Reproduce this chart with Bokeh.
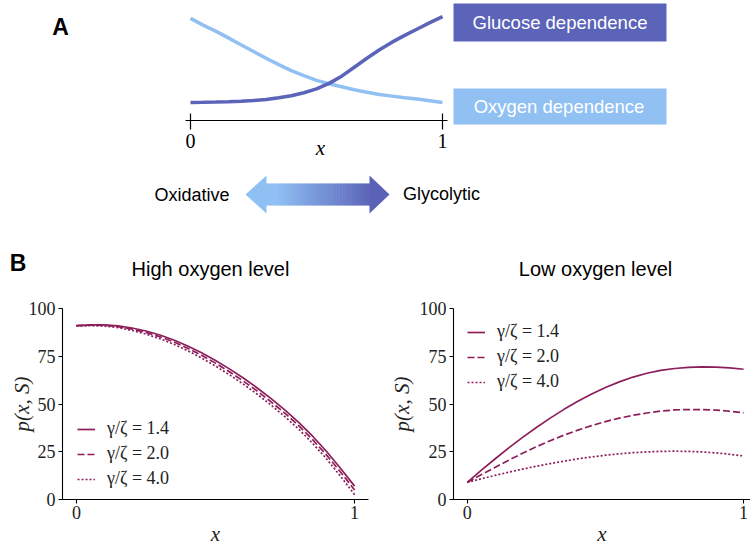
import numpy as np
from bokeh.plotting import figure
from bokeh.layouts import column, row
from bokeh.models import Range1d, FixedTicker, Legend, LegendItem
from bokeh.core.properties import value
from bokeh.embed import file_html
from bokeh.resources import INLINE

# ---------------- data ----------------
# Panel A: schematic dependence curves, x in [0, 1]
a_x = [0.0, 0.05, 0.1, 0.15, 0.2, 0.25, 0.3, 0.35, 0.4, 0.45, 0.5,
       0.55, 0.6, 0.65, 0.7, 0.75, 0.8, 0.85, 0.9, 0.95, 1.0]
glucose_dep = [0.0, 0.002, 0.005, 0.009, 0.015, 0.024, 0.035, 0.055, 0.08, 0.115, 0.16,
               0.225, 0.31, 0.415, 0.52, 0.62, 0.71, 0.79, 0.865, 0.94, 1.01]
oxygen_dep = [0.99, 0.91, 0.84, 0.76, 0.68, 0.60, 0.52, 0.445, 0.375, 0.315, 0.26,
              0.22, 0.185, 0.15, 0.12, 0.095, 0.075, 0.055, 0.04, 0.02, 0.0]
a_ticks = [0, 1]
a_tick_labels = ["0", "1"]
a_box_labels = ["Glucose dependence", "Oxygen dependence"]
arrow_labels = ["Oxidative", "Glycolytic"]

# Panel B: p(x, S) for three gamma/zeta ratios
b_x = [0.0, 0.05, 0.1, 0.15, 0.2, 0.25, 0.3, 0.35, 0.4, 0.45, 0.5,
       0.55, 0.6, 0.65, 0.7, 0.75, 0.8, 0.85, 0.9, 0.95, 1.0]
high_14 = [91.0, 91.4, 91.4, 90.9, 89.8, 88.2, 86.1, 83.5, 80.4, 76.8, 72.8,
           68.4, 63.6, 58.4, 52.8, 46.8, 40.3, 33.0, 25.0, 16.2, 7.0]
high_20 = [91.0, 91.3, 91.2, 90.5, 89.2, 87.5, 85.2, 82.5, 79.2, 75.5, 71.4,
           66.9, 62.0, 56.8, 51.1, 45.1, 38.5, 31.2, 23.1, 14.3, 5.0]
high_40 = [90.8, 91.0, 90.8, 90.0, 88.5, 86.6, 84.2, 81.3, 77.9, 74.1, 69.9,
           65.3, 60.4, 55.1, 49.4, 43.3, 36.7, 29.3, 21.1, 12.1, 2.5]
low_14 = [9.0, 15.2, 21.2, 27.0, 32.5, 37.7, 42.6, 47.2, 51.4, 55.2, 58.6,
          61.6, 64.1, 66.1, 67.6, 68.6, 69.2, 69.4, 69.3, 68.9, 68.2]
low_20 = [9.0, 12.9, 16.8, 20.6, 24.2, 27.6, 30.8, 33.7, 36.3, 38.7, 40.8,
          42.6, 44.1, 45.3, 46.3, 46.9, 47.1, 47.1, 46.8, 46.2, 45.4]
low_40 = [9.0, 10.8, 12.6, 14.3, 15.9, 17.4, 18.8, 20.1, 21.3, 22.3, 23.2,
          23.9, 24.5, 24.9, 25.2, 25.3, 25.2, 24.9, 24.4, 23.7, 22.8]
ratio_labels = ["γ/ζ = 1.4", "γ/ζ = 2.0", "γ/ζ = 4.0"]
panel_titles = ["High oxygen level", "Low oxygen level"]
b_x_ticks = [0, 1]
b_y_ticks = [0, 25, 50, 75, 100]

# ---------------- styles ----------------
GLU = "#5c64b9"
OXY = "#91c0f3"
WINE = "#8c1e5a"
SANS = value("Liberation Sans")
SERIF = value("Liberation Serif")
dashes = ["solid", "7 3", "2 2"]

A_H = 283
B_H = 266

# ---------------- panel A (canvas covering page y 0..283) ----------------
def fx(X):
    return (X - 190.0) / 252.0

def fy(Y):
    return (102.0 - Y) / 85.0

pA = figure(width=750, height=A_H, output_backend="svg", toolbar_location=None,
            x_range=Range1d(fx(0), fx(750)), y_range=Range1d(fy(A_H), fy(0)),
            x_axis_location=None, y_axis_location=None, min_border=0,
            outline_line_color=None)
pA.grid.visible = False

pA.line(a_x, oxygen_dep, line_color=OXY, line_width=3.5)
pA.line(a_x, glucose_dep, line_color=GLU, line_width=3.5)

# axis of schematic
pA.segment(x0=[fx(185)], y0=[fy(120)], x1=[fx(447)], y1=[fy(120)], line_color="black", line_width=1.2)
pA.segment(x0=a_ticks, y0=[fy(113)] * 2, x1=a_ticks, y1=[fy(129)] * 2, line_color="black", line_width=1.2)
pA.text(x=a_ticks, y=[fy(140)] * 2, text=a_tick_labels, text_font=SERIF, text_font_size="20px",
        text_align="center", text_baseline="middle", text_color="black")
pA.text(x=[fx(320)], y=[fy(147)], text=["x"], text_font=SERIF, text_font_size="21px",
        text_font_style="italic", text_align="center", text_baseline="middle", text_color="black")

# label boxes
pA.quad(left=[fx(453), fx(453)], right=[fx(666), fx(666)], top=[fy(3), fy(88)],
        bottom=[fy(41), fy(124)], fill_color=[GLU, OXY], line_color=None)
pA.text(x=[fx(559.5), fx(558.5)], y=[fy(22), fy(106)], text=a_box_labels, text_font=SANS,
        text_font_size="18.5px", text_align="center", text_baseline="middle", text_color="white")

# double arrow with gradient shaft
pA.patches(xs=[[fx(245), fx(266), fx(266)], [fx(389), fx(369), fx(369)]],
           ys=[[fy(194), fy(175), fy(213)], [fy(194), fy(175), fy(213)]],
           fill_color=["#8fc0f3", "#5a62b8"], line_color=None)
edges = np.linspace(264.5, 370.5, 71)
mids = 0.5 * (edges[:-1] + edges[1:])
t = np.clip((mids - 275.0) / (370.0 - 275.0), 0, 1)
c0 = np.array([0x8f, 0xc0, 0xf3])
c1 = np.array([0x5c, 0x64, 0xb9])
cols = ["#%02x%02x%02x" % tuple(int(round(v)) for v in (c0 + (c1 - c0) * tt)) for tt in t]
pA.quad(left=[fx(e) for e in edges[:-1]], right=[fx(e + 0.6) for e in edges[1:]],
        top=[fy(183)] * 70, bottom=[fy(205)] * 70, fill_color=cols, line_color=None)
pA.text(x=[fx(191.5), fx(441)], y=[fy(194), fy(193)], text=arrow_labels, text_font=SANS,
        text_font_size="18px", text_align="center", text_baseline="middle", text_color="black")

# panel letters and panel-B titles
pA.text(x=[fx(60), fx(17.5)], y=[fy(26), fy(262)], text=["A", "B"], text_font=SANS,
        text_font_size="23px", text_font_style="bold", text_align="center",
        text_baseline="middle", text_color="black")
pA.text(x=[fx(210), fx(595)], y=[fy(268), fy(268)], text=panel_titles, text_font=SANS,
        text_font_size="20px", text_align="center", text_baseline="middle", text_color="black")


# ---------------- panel B ----------------
def make_b(width, x_end, left, right, ys, leg_loc, ylab_standoff):
    p = figure(width=width, height=B_H, output_backend="svg", toolbar_location=None,
               x_range=Range1d(-0.05, x_end), y_range=Range1d(0, 100),
               min_border_left=left, min_border_right=right, min_border_top=308 - A_H,
               min_border_bottom=B_H - (308 - A_H) - 191, outline_line_color=None)
    p.grid.visible = False
    p.xaxis.ticker = FixedTicker(ticks=b_x_ticks)
    p.yaxis.ticker = FixedTicker(ticks=b_y_ticks)
    p.xaxis.axis_label = "x"
    p.yaxis.axis_label = "p(x, S)"
    for ax in (p.xaxis[0], p.yaxis[0]):
        ax.axis_line_color = "black"
        ax.axis_line_width = 1.1
        ax.major_tick_line_color = "black"
        ax.major_tick_line_width = 1.1
        ax.major_tick_in = 0
        ax.major_tick_out = 4
        ax.minor_tick_line_color = None
        ax.major_label_text_font = "Liberation Serif"
        ax.major_label_text_font_size = "18px"
        ax.major_label_text_color = "#222222"
        ax.major_label_standoff = 3
        ax.axis_label_text_font = "Liberation Serif"
        ax.axis_label_text_font_size = "21px"
        ax.axis_label_text_font_style = "italic"
        ax.axis_label_text_color = "#222222"
    p.xaxis.major_label_standoff = 2
    p.xaxis.axis_label_standoff = 0
    p.yaxis.axis_label_standoff = ylab_standoff
    rs = []
    for yv, dash in zip(ys, dashes):
        rs.append(p.line(b_x, yv, line_color=WINE, line_width=1.7, line_dash=dash))
    leg = Legend(items=[LegendItem(label=lab, renderers=[r]) for lab, r in zip(ratio_labels, rs)],
                 location=leg_loc, glyph_width=18, glyph_height=20, label_height=20,
                 label_standoff=12, spacing=4, padding=0, margin=0,
                 border_line_color=None, background_fill_alpha=0,
                 label_text_font="Liberation Serif", label_text_font_size="18px",
                 label_text_color="#222222")
    p.add_layout(leg)
    return p


pB1 = make_b(380, 1.05, 62, 12, [high_14, high_20, high_40], (15, 10), -8)
pB2 = make_b(370, 1.025, 73, 0, [low_14, low_20, low_40], (14, 107), 3)

layout = column(pA, row(pB1, pB2))
open("out.html", "w").write(file_html(layout, INLINE))
